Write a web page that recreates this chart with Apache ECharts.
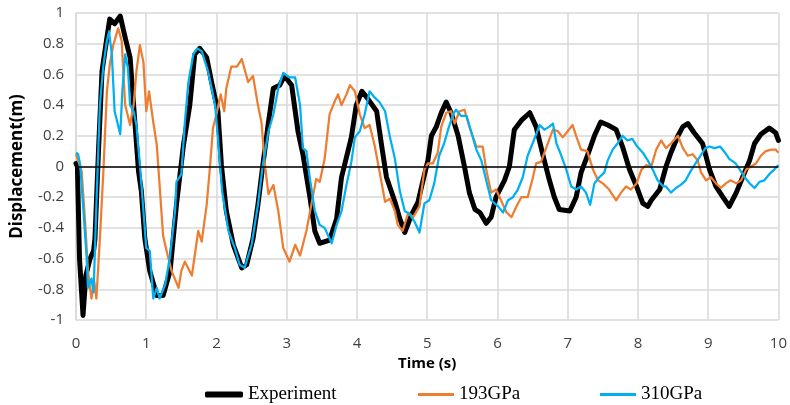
<!DOCTYPE html>
<html>
<head>
<meta charset="utf-8">
<script src="https://cdn.jsdelivr.net/npm/echarts@6/dist/echarts.min.js"></script>
<style>
  html, body { margin: 0; padding: 0; background: #fff; }
  #chart { width: 790px; height: 405px; }
</style>
</head>
<body>
<div id="chart"></div>
<script>
// time axis ticks
const xTicks = [0, 1, 2, 3, 4, 5, 6, 7, 8, 9, 10]

// Experiment
const expT = [0, 0.02, 0.05, 0.10, 0.14, 0.20, 0.25, 0.27, 0.32, 0.37, 0.44, 0.48, 0.55, 0.63, 0.70, 0.77, 0.82, 0.89, 0.93, 0.98,
  1.05, 1.15, 1.24, 1.34, 1.43, 1.53, 1.62, 1.69, 1.76, 1.86, 1.93, 2.02, 2.07, 2.14, 2.24, 2.36, 2.43, 2.52, 2.59, 2.66,
  2.74, 2.81, 2.90, 2.97, 3.07, 3.16, 3.23, 3.33, 3.40, 3.47, 3.61, 3.71, 3.78, 3.85, 3.92, 3.99, 4.07, 4.14, 4.28, 4.35,
  4.42, 4.54, 4.61, 4.68, 4.78, 4.87, 4.92, 5.01, 5.06, 5.13, 5.20, 5.27, 5.34, 5.44, 5.53, 5.60, 5.68, 5.75, 5.84, 5.91,
  5.98, 6.10, 6.17, 6.24, 6.34, 6.46, 6.55, 6.65, 6.74, 6.81, 6.88, 7.03, 7.12, 7.19, 7.28, 7.38, 7.47, 7.57, 7.69, 7.78,
  7.88, 7.98, 8.07, 8.14, 8.19, 8.31, 8.40, 8.47, 8.57, 8.64, 8.71, 8.80, 8.92, 9.02, 9.11, 9.21, 9.30, 9.40, 9.49, 9.59,
  9.66, 9.75, 9.87, 9.96, 10.0]
const expY = [0.02, 0.0, -0.6, -0.97, -0.71, -0.6, -0.55, -0.47, 0.1, 0.62, 0.84, 0.96, 0.93, 0.98, 0.84, 0.71, 0.40, -0.03, -0.16, -0.47,
  -0.68, -0.84, -0.84, -0.68, -0.25, 0.14, 0.40, 0.73, 0.77, 0.71, 0.55, 0.36, 0.01, -0.29, -0.51, -0.66, -0.64, -0.47, -0.25, 0.01,
  0.29, 0.51, 0.53, 0.59, 0.53, 0.23, 0.08, -0.20, -0.42, -0.50, -0.48, -0.34, -0.07, 0.06, 0.19, 0.40, 0.49, 0.45, 0.36, 0.14,
  -0.07, -0.23, -0.34, -0.43, -0.31, -0.23, -0.13, 0.04, 0.20, 0.26, 0.35, 0.42, 0.35, 0.20, 0.0, -0.17, -0.28, -0.30, -0.37, -0.33,
  -0.20, -0.09, 0.0, 0.24, 0.30, 0.35, 0.26, 0.07, -0.09, -0.20, -0.28, -0.29, -0.20, -0.04, 0.07, 0.20, 0.29, 0.27, 0.24, 0.13,
  -0.02, -0.13, -0.24, -0.26, -0.22, -0.15, 0.0, 0.09, 0.20, 0.26, 0.28, 0.22, 0.15, -0.02, -0.13, -0.20, -0.26, -0.17, -0.07, 0.04,
  0.15, 0.21, 0.25, 0.22, 0.17]

// 193GPa
const e193T = [0, 0.02, 0.08, 0.13, 0.17, 0.22, 0.26, 0.29, 0.34, 0.39, 0.44, 0.48, 0.53, 0.60, 0.65, 0.70, 0.77, 0.82, 0.86, 0.91,
  0.96, 1.00, 1.04, 1.10, 1.15, 1.19, 1.24, 1.29, 1.36, 1.46, 1.50, 1.55, 1.65, 1.74, 1.79, 1.86, 1.91, 1.95, 2.00, 2.06,
  2.11, 2.14, 2.21, 2.29, 2.36, 2.45, 2.52, 2.59, 2.64, 2.69, 2.74, 2.81, 2.88, 2.95, 3.04, 3.12, 3.19, 3.28, 3.35, 3.42,
  3.47, 3.54, 3.61, 3.68, 3.73, 3.78, 3.85, 3.90, 3.97, 4.04, 4.11, 4.18, 4.25, 4.32, 4.40, 4.47, 4.54, 4.58, 4.65, 4.73,
  4.80, 4.89, 4.96, 5.01, 5.08, 5.15, 5.20, 5.27, 5.34, 5.39, 5.46, 5.53, 5.60, 5.70, 5.79, 5.84, 5.91, 5.98, 6.05, 6.13,
  6.20, 6.27, 6.34, 6.43, 6.50, 6.55, 6.62, 6.70, 6.79, 6.86, 6.93, 7.00, 7.07, 7.12, 7.19, 7.28, 7.36, 7.43, 7.50, 7.59,
  7.69, 7.76, 7.83, 7.90, 7.98, 8.05, 8.12, 8.19, 8.26, 8.33, 8.40, 8.47, 8.57, 8.64, 8.71, 8.78, 8.85, 8.90, 8.97, 9.04,
  9.11, 9.18, 9.25, 9.32, 9.40, 9.47, 9.54, 9.61, 9.68, 9.75, 9.82, 9.90, 9.96, 10.0]
const e193Y = [0.08, 0.08, -0.03, -0.36, -0.68, -0.86, -0.75, -0.86, -0.47, -0.03, 0.49, 0.66, 0.79, 0.90, 0.82, 0.40, 0.27, 0.40, 0.62, 0.79,
  0.68, 0.36, 0.49, 0.29, 0.14, -0.12, -0.45, -0.55, -0.68, -0.79, -0.68, -0.62, -0.71, -0.42, -0.49, -0.25, 0.01, 0.25, 0.34, 0.47,
  0.36, 0.51, 0.65, 0.65, 0.70, 0.55, 0.59, 0.40, 0.29, 0.01, -0.18, -0.12, -0.29, -0.53, -0.62, -0.51, -0.58, -0.42, -0.25, -0.08,
  -0.10, 0.05, 0.34, 0.42, 0.47, 0.40, 0.47, 0.53, 0.49, 0.34, 0.25, 0.27, 0.14, -0.03, -0.23, -0.21, -0.29, -0.38, -0.42, -0.30,
  -0.33, -0.26, -0.02, 0.02, 0.02, 0.09, 0.26, 0.35, 0.36, 0.28, 0.36, 0.37, 0.26, 0.13, 0.13, -0.02, -0.17, -0.15, -0.22, -0.30,
  -0.33, -0.26, -0.20, -0.20, -0.08, 0.02, 0.03, 0.13, 0.24, 0.23, 0.19, 0.23, 0.27, 0.20, 0.11, 0.10, -0.02, -0.09, -0.11, -0.15,
  -0.22, -0.17, -0.13, -0.15, -0.11, -0.02, 0.01, 0.0, 0.11, 0.17, 0.12, 0.15, 0.20, 0.12, 0.07, 0.08, 0.04, -0.04, -0.09, -0.07,
  -0.11, -0.14, -0.11, -0.09, -0.11, -0.09, -0.02, 0.0, 0.02, 0.07, 0.10, 0.11, 0.11, 0.09]

// 310GPa
const e310T = [0, 0.03, 0.06, 0.10, 0.15, 0.17, 0.22, 0.25, 0.29, 0.34, 0.39, 0.44, 0.47, 0.51, 0.55, 0.63, 0.66, 0.70, 0.74, 0.77,
  0.82, 0.86, 0.91, 0.96, 1.00, 1.05, 1.10, 1.15, 1.19, 1.27, 1.34, 1.41, 1.43, 1.50, 1.55, 1.60, 1.67, 1.73, 1.79, 1.88,
  1.98, 2.02, 2.08, 2.17, 2.26, 2.33, 2.40, 2.50, 2.59, 2.66, 2.74, 2.81, 2.88, 2.95, 3.04, 3.12, 3.19, 3.23, 3.28, 3.33,
  3.40, 3.47, 3.54, 3.64, 3.71, 3.78, 3.85, 3.92, 3.97, 4.04, 4.11, 4.18, 4.25, 4.32, 4.40, 4.47, 4.54, 4.61, 4.68, 4.75,
  4.82, 4.89, 4.96, 5.03, 5.10, 5.17, 5.24, 5.31, 5.38, 5.41, 5.48, 5.56, 5.63, 5.70, 5.77, 5.84, 5.91, 6.01, 6.08, 6.15,
  6.22, 6.29, 6.36, 6.43, 6.50, 6.56, 6.60, 6.67, 6.74, 6.79, 6.84, 6.91, 6.98, 7.05, 7.12, 7.19, 7.26, 7.32, 7.38, 7.45,
  7.52, 7.57, 7.64, 7.71, 7.78, 7.85, 7.92, 7.99, 8.07, 8.14, 8.21, 8.28, 8.36, 8.40, 8.47, 8.54, 8.61, 8.68, 8.75, 8.82,
  8.89, 8.96, 9.02, 9.09, 9.17, 9.24, 9.30, 9.39, 9.45, 9.52, 9.59, 9.66, 9.73, 9.80, 9.87, 9.94, 10.0]
const e310Y = [0.09, 0.08, 0.01, -0.25, -0.58, -0.79, -0.73, -0.82, -0.25, 0.40, 0.66, 0.82, 0.88, 0.73, 0.36, 0.21, 0.49, 0.73, 0.64, 0.40,
  0.36, 0.27, 0.01, -0.29, -0.53, -0.55, -0.86, -0.79, -0.86, -0.77, -0.58, -0.29, -0.10, -0.05, 0.29, 0.55, 0.73, 0.77, 0.75, 0.62,
  0.40, 0.19, -0.16, -0.42, -0.53, -0.64, -0.66, -0.51, -0.25, 0.01, 0.23, 0.34, 0.51, 0.61, 0.58, 0.58, 0.40, 0.12, 0.10, -0.08,
  -0.29, -0.38, -0.40, -0.50, -0.38, -0.29, -0.12, 0.03, 0.19, 0.23, 0.34, 0.49, 0.45, 0.42, 0.36, 0.19, 0.05, -0.16, -0.29, -0.31,
  -0.36, -0.43, -0.24, -0.22, -0.11, 0.07, 0.15, 0.26, 0.35, 0.37, 0.33, 0.33, 0.22, 0.11, 0.04, -0.09, -0.22, -0.26, -0.30, -0.22,
  -0.20, -0.15, -0.07, 0.07, 0.15, 0.22, 0.27, 0.24, 0.26, 0.28, 0.15, 0.07, -0.02, -0.13, -0.15, -0.13, -0.17, -0.25, -0.11, -0.07,
  -0.04, 0.04, 0.11, 0.15, 0.20, 0.17, 0.18, 0.13, 0.09, 0.04, -0.02, -0.09, -0.13, -0.13, -0.17, -0.14, -0.12, -0.09, -0.03, 0.02,
  0.07, 0.12, 0.13, 0.12, 0.13, 0.09, 0.05, 0.02, -0.02, -0.07, -0.11, -0.14, -0.10, -0.09, -0.05, -0.02, 0.01]

function zip(t, y) {
  return t.map((v, i) => [v, y[i]])
}

let Chart = echarts.init(document.getElementById('chart'))

const tickFont = 'Liberation Sans Narrow, Open Sans, sans-serif'
const legendFont = 'Liberation Serif, serif'

let option = {
  animation: false,
  grid: {
    left: 76,
    right: 11,
    top: 13,
    bottom: 85
  },
  legend: [{
    data: ['Experiment'],
    left: 200,
    top: 380,
    icon: 'roundRect',
    itemWidth: 38,
    itemHeight: 6,
    textStyle: { fontFamily: legendFont, fontSize: 19, color: '#000' }
  }, {
    data: ['193GPa'],
    left: 413,
    top: 380,
    icon: 'rect',
    itemWidth: 36,
    itemHeight: 3,
    textStyle: { fontFamily: legendFont, fontSize: 19, color: '#000' }
  }, {
    data: ['310GPa'],
    left: 595,
    top: 380,
    icon: 'rect',
    itemWidth: 36,
    itemHeight: 3,
    textStyle: { fontFamily: legendFont, fontSize: 19, color: '#000' }
  }],
  xAxis: {
    type: 'value',
    min: xTicks[0],
    max: xTicks[xTicks.length - 1],
    interval: 1,
    name: 'Time (s)',
    nameLocation: 'middle',
    nameGap: 32,
    nameTextStyle: { fontFamily: tickFont, fontSize: 15, fontWeight: 'bold', color: '#000' },
    axisLine: { show: false, onZero: false },
    axisTick: { show: false },
    axisLabel: { margin: 16, fontFamily: tickFont, fontSize: 15, color: '#404040' },
    splitLine: { show: true, lineStyle: { color: '#d9d9d9', width: 1.5 } }
  },
  yAxis: {
    type: 'value',
    min: -1,
    max: 1,
    interval: 0.2,
    name: 'Displacement(m)',
    nameLocation: 'middle',
    nameGap: 50,
    nameTextStyle: { fontFamily: tickFont, fontSize: 17, fontWeight: 'bold', color: '#000' },
    axisLine: { show: true, lineStyle: { color: '#d9d9d9', width: 1.5 } },
    axisTick: { show: false },
    axisLabel: { margin: 12, fontFamily: tickFont, fontSize: 15, color: '#404040' },
    splitLine: { show: true, lineStyle: { color: '#d9d9d9', width: 1.5 } }
  },
  series: [{
    name: 'Experiment',
    type: 'line',
    data: zip(expT, expY),
    showSymbol: false,
    color: '#000000',
    lineStyle: { width: 5, join: 'round', cap: 'round' },
    markLine: {
      silent: true,
      symbol: 'none',
      label: { show: false },
      lineStyle: { color: '#000', width: 1.5, type: 'solid' },
      data: [{ yAxis: 0 }]
    }
  }, {
    name: '193GPa',
    type: 'line',
    data: zip(e193T, e193Y),
    showSymbol: false,
    color: '#ed7d31',
    lineStyle: { width: 2.25, join: 'round' }
  }, {
    name: '310GPa',
    type: 'line',
    data: zip(e310T, e310Y),
    showSymbol: false,
    color: '#00b0f0',
    lineStyle: { width: 2.25, join: 'round' }
  }]
}

Chart.setOption(option)
</script>
</body>
</html>
